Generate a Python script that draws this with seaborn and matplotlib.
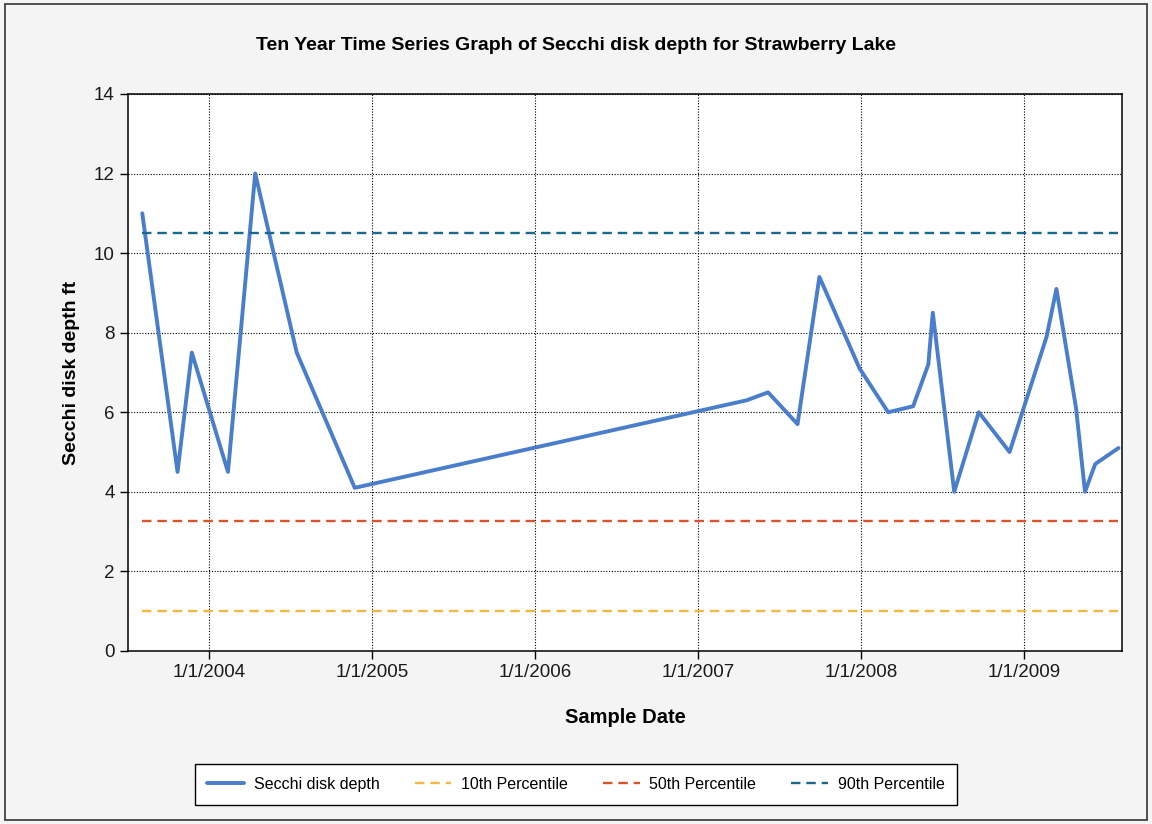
import pandas as pd
import seaborn as sns
import matplotlib.pyplot as plt
import matplotlib.dates as mdates
from matplotlib.patches import Rectangle

# Sample dates and Secchi depth readings (ft)
sample_dates = ['2003-08-05', '2003-10-23', '2003-11-24', '2004-02-13', '2004-04-14',
                '2004-07-16', '2004-11-23', '2007-04-20', '2007-06-07', '2007-08-12',
                '2007-09-30', '2007-12-29', '2008-03-02', '2008-04-27', '2008-05-31',
                '2008-06-10', '2008-07-28', '2008-09-21', '2008-11-29', '2009-02-20',
                '2009-03-14', '2009-04-27', '2009-05-17', '2009-06-09', '2009-07-31']
secchi_depth = [11.0, 4.5, 7.5, 4.5, 12.0,
                7.5, 4.1, 6.3, 6.5, 5.7,
                9.4, 7.1, 6.0, 6.15, 7.2,
                8.5, 4.0, 6.0, 5.0, 7.9,
                9.1, 6.1, 4.0, 4.7, 5.1]

# Percentile reference levels
percentile_names = ['10th Percentile', '50th Percentile', '90th Percentile']
percentile_values = [1.0, 3.27, 10.5]
percentile_colors = ['#f2b845', '#d9532c', '#19698a']

year_ticks = ['2004-01-01', '2005-01-01', '2006-01-01', '2007-01-01', '2008-01-01', '2009-01-01']
y_ticks = [0, 2, 4, 6, 8, 10, 12, 14]

dates = pd.to_datetime(sample_dates)

sns.set_style('ticks')
plt.rcParams['font.family'] = ['Liberation Sans', 'DejaVu Sans']
plt.rcParams['text.color'] = 'black'
plt.rcParams['axes.labelcolor'] = 'black'

fig = plt.figure(figsize=(11.52, 8.24), dpi=100, facecolor='#f4f4f4')
ax = fig.add_axes([0.1111, 0.21, 0.8629, 0.676])
ax.set_facecolor('white')

# Main series
sns.lineplot(x=dates, y=secchi_depth, ax=ax, color='#4a7ecb', linewidth=2.8,
             label='Secchi disk depth')

# Percentile lines spanning the sampled range
for name, val, col in zip(percentile_names, percentile_values, percentile_colors):
    sns.lineplot(x=[dates[0], dates[-1]], y=[val, val], ax=ax, color=col,
                 linewidth=1.7, linestyle=(0, (4, 2.5)), label=name)

ax.set_xlim(pd.Timestamp('2003-07-04'), pd.Timestamp('2009-08-08'))
ax.set_ylim(0, 14)
ax.set_yticks(y_ticks)
ax.set_xticks(pd.to_datetime(year_ticks))
ax.xaxis.set_major_formatter(plt.FuncFormatter(
    lambda v, pos: (lambda d: f'{d.month}/{d.day}/{d.year}')(mdates.num2date(v))))

ax.grid(True, color='black', linestyle=(0, (1, 1.5)), linewidth=0.8)
ax.tick_params(axis='both', labelsize=13.5, colors='black', labelcolor='#1a1a1a',
               length=6, width=1, direction='out')
for sp in ax.spines.values():
    sp.set_color('black')
    sp.set_linewidth(1.1)

ax.set_xlabel('Sample Date', fontsize=14.5, fontweight='bold', va='top')
ax.set_ylabel('Secchi disk depth ft', fontsize=14, fontweight='bold')
ax.xaxis.set_label_coords(0.5, -0.102)
ax.yaxis.set_label_coords(-0.048, 0.5)

fig.suptitle('Ten Year Time Series Graph of Secchi disk depth for Strawberry Lake',
             fontsize=14, fontweight='bold', x=0.5, y=0.955)

# Legend below the plot
handles, labels = ax.get_legend_handles_labels()
ax.get_legend().remove()
leg = fig.legend(handles, labels, loc='center', bbox_to_anchor=(0.5, 0.048), ncol=4,
                 fontsize=11.5, frameon=True, fancybox=False, edgecolor='black',
                 facecolor='white', framealpha=1, handlelength=2.3, handletextpad=0.6,
                 columnspacing=2.2, borderpad=0.8)
leg.get_frame().set_linewidth(1.0)

# Outer border of the figure
fig.patches.append(Rectangle((0.004, 0.005), 0.992, 0.99, transform=fig.transFigure,
                             fill=False, edgecolor='#333333', linewidth=1.2))

fig.savefig('out.png', dpi=100, facecolor=fig.get_facecolor())
